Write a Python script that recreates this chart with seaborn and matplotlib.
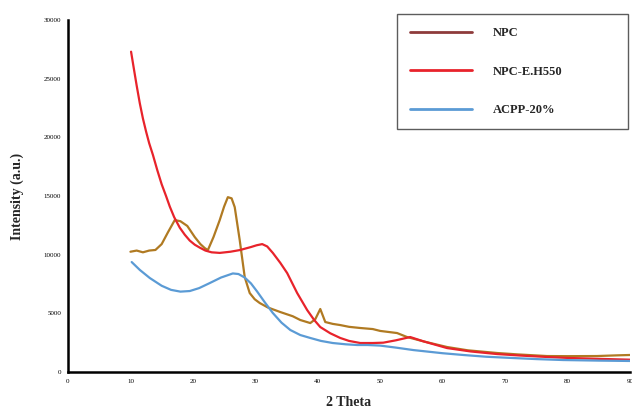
import numpy as np
import pandas as pd
import seaborn as sns
import matplotlib
matplotlib.use("Agg")
import matplotlib.pyplot as plt
from matplotlib.lines import Line2D

# NPC (brown)
npc_x = [10.0, 11.0, 12.0, 13.0, 14.0, 15.0, 16.0, 17.1, 18.0, 19.1, 20.3, 21.2, 21.9, 22.4,
         23.3, 24.3, 25.0, 25.6, 26.2, 26.7, 27.5, 28.3, 29.1, 29.9, 30.7, 32.0, 34.0, 36.0,
         37.2, 38.8, 39.6, 40.4, 41.2, 42.4, 43.6, 45.0, 46.8, 48.8, 50.0, 52.7, 54.3, 57.0,
         60.7, 64.0, 68.7, 72.0, 76.7, 80.0, 84.7, 88.0, 90.0]
npc_y = [10250, 10350, 10200, 10350, 10400, 10900, 11900, 12950, 12850, 12450, 11500, 10900,
         10560, 10390, 11500, 12950, 14100, 14900, 14800, 14050, 11240, 8090, 6730, 6200,
         5880, 5500, 5110, 4750, 4430, 4170, 4500, 5370, 4260, 4100, 4000, 3850, 3750, 3660,
         3500, 3320, 2980, 2600, 2130, 1850, 1620, 1500, 1360, 1350, 1360, 1420, 1450]

# NPC-E.H550 (red)
red_x = [10.1, 10.5, 11.0, 11.5, 12.0, 12.5, 13.0, 13.6, 14.3, 15.0, 15.7, 16.3, 17.0, 17.9,
         18.7, 19.5, 20.3, 21.1, 22.0, 23.0, 24.3, 26.0, 27.5, 29.3, 30.2, 31.1, 31.9, 32.8,
         34.0, 35.1, 36.7, 38.3, 39.4, 40.4, 42.0, 43.6, 45.0, 46.8, 48.8, 50.5, 52.5, 54.8,
         57.0, 60.7, 64.5, 68.7, 72.5, 76.7, 80.0, 85.0, 90.0]
red_y = [27300, 26000, 24400, 22900, 21600, 20500, 19500, 18500, 17200, 16000, 15000, 14100,
         13200, 12300, 11700, 11200, 10850, 10600, 10350, 10200, 10150, 10250, 10390, 10650,
         10800, 10900, 10700, 10150, 9300, 8430, 6730, 5280, 4450, 3830, 3300, 2900, 2650,
         2470, 2470, 2500, 2700, 2980, 2600, 2040, 1750, 1530, 1400, 1280, 1200, 1120, 1050]

# ACPP-20% (blue)
blue_x = [10.2, 11.5, 13.1, 15.0, 16.5, 18.0, 19.5, 21.0, 22.7, 24.5, 26.4, 27.3, 28.3, 29.3,
          30.3, 31.5, 32.8, 34.2, 35.6, 37.2, 38.8, 40.5, 42.4, 44.5, 46.3, 48.0, 50.0, 52.5,
          55.3, 60.0, 63.3, 67.0, 71.3, 75.0, 79.3, 85.0, 90.0]
blue_y = [9370, 8700, 8010, 7350, 7000, 6850, 6900, 7150, 7580, 8050, 8400, 8350, 8050, 7550,
          6850, 5950, 5030, 4200, 3580, 3150, 2900, 2650, 2470, 2360, 2300, 2300, 2250, 2080,
          1870, 1600, 1450, 1300, 1190, 1100, 1020, 970, 940]

series = ["NPC", "NPC-E.H550", "ACPP-20%"]
line_colors = ["#B07A22", "#E8232B", "#5B9BD5"]
legend_colors = ["#8E3B3B", "#E8232B", "#5B9BD5"]

df = pd.concat([
    pd.DataFrame({"theta": npc_x, "intensity": npc_y, "sample": series[0]}),
    pd.DataFrame({"theta": red_x, "intensity": red_y, "sample": series[1]}),
    pd.DataFrame({"theta": blue_x, "intensity": blue_y, "sample": series[2]}),
])

sns.set_style("white")
plt.rcParams["font.family"] = ["Liberation Serif", "DejaVu Serif"]

fig = plt.figure(figsize=(6.32, 4.08), dpi=100)
ax = fig.add_axes([68 / 632, 36 / 408, 562 / 632, 352 / 408])

sns.lineplot(data=df, x="theta", y="intensity", hue="sample", hue_order=series,
             palette=dict(zip(series, line_colors)), linewidth=1.6, sort=False,
             estimator=None, legend=False, ax=ax)

ax.set_xlim(0, 90)
ax.set_ylim(0, 30000)
ax.set_xticks(np.arange(0, 91, 10))
ax.set_yticks(np.arange(0, 30001, 5000))
ax.tick_params(axis="both", labelsize=5, length=3, width=1, direction="out",
               pad=2, colors="black")
for s in ["top", "right"]:
    ax.spines[s].set_visible(False)
for s in ["left", "bottom"]:
    ax.spines[s].set_color("black")
    ax.spines[s].set_linewidth(1.8)

ax.set_xlabel("2 Theta", fontsize=10, fontweight="bold", labelpad=9)
ax.set_ylabel("Intensity (a.u.)", fontsize=10, fontweight="bold", labelpad=14)

handles = [Line2D([0], [0], color=c, linewidth=2) for c in legend_colors]
leg = ax.legend(handles, series, loc="upper left",
                bbox_to_anchor=(329 / 562, 1.017, 231 / 562, 0.0), mode="expand",
                frameon=True, fancybox=False, edgecolor="#333333", handlelength=5.0,
                handletextpad=1.6, labelspacing=2.12, borderpad=1.04, borderaxespad=0,
                prop={"weight": "bold", "size": 9})
leg.get_frame().set_linewidth(1.0)

fig.savefig("out.png", dpi=100)
